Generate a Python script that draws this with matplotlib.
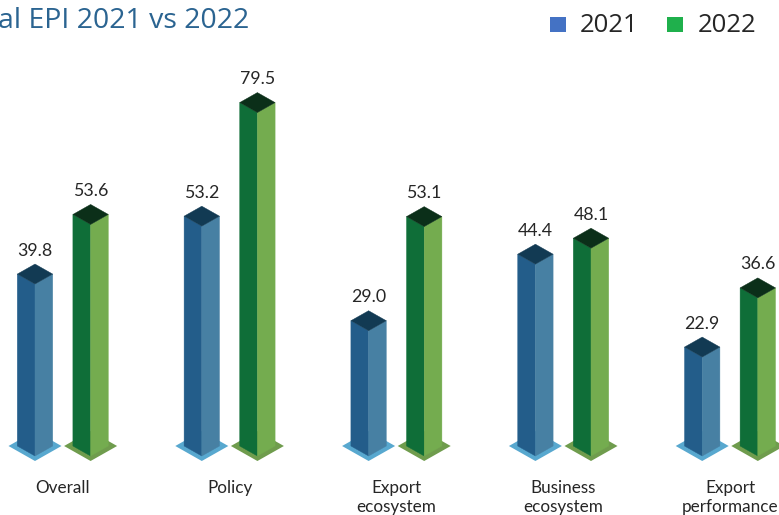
import matplotlib
matplotlib.use('Agg')
import matplotlib.pyplot as plt
from matplotlib.patches import Polygon, Rectangle

# EPI scores per pillar
categories = ['Overall', 'Policy', 'Export\necosystem', 'Business\necosystem', 'Export\nperformance']
epi_2021 = [39.8, 53.2, 29.0, 44.4, 22.9]
epi_2022 = [53.6, 79.5, 53.1, 48.1, 36.6]
years = ['2021', '2022']

# colours: (left face, right face, top, base, legend)
col_2021 = ('#235d8a', '#4780a3', '#123a53', '#58a8cf', '#4472c4')
col_2022 = ('#0f6e38', '#74ac4f', '#0b2f19', '#6f9c4d', '#1fb04c')

W, H = 779, 515
fig = plt.figure(figsize=(W / 100, H / 100), dpi=100)
ax = fig.add_axes([0, 0, 1, 1])
ax.axis('off')

# pixels per category step / per score unit
px_x = 166.8
px_y = 4.32
x0_px, y0_px = 62.8, 456
ax.set_xlim(-x0_px / px_x, (W - x0_px) / px_x)
ax.set_ylim(-(H - y0_px) / px_y, y0_px / px_y)

off = 27.8 / px_x      # bar offset from group centre
hw = 17.7 / px_x       # half width of a bar
dd = 10 / px_y         # half depth of the top diamond
bw = 26.5 / px_x       # half width of the base plate
bd = 15 / px_y         # half depth of the base plate


def bar3d(x, v, cols):
    left, right, top, base = cols[:4]
    # base plate
    ax.add_patch(Polygon([(x - bw, dd), (x, dd + bd), (x + bw, dd), (x, dd - bd)],
                         closed=True, fc=base, ec='none', zorder=1))
    # faces
    ax.add_patch(Polygon([(x - hw, dd), (x, 0), (x, v), (x - hw, v + dd)],
                         closed=True, fc=left, ec=left, lw=0.3, zorder=2))
    ax.add_patch(Polygon([(x, 0), (x + hw, dd), (x + hw, v + dd), (x, v)],
                         closed=True, fc=right, ec=right, lw=0.3, zorder=2))
    # top
    ax.add_patch(Polygon([(x - hw, v + dd), (x, v), (x + hw, v + dd), (x, v + 2 * dd)],
                         closed=True, fc=top, ec=top, lw=0.3, zorder=3))
    ax.annotate('%.1f' % v, (x, v + 2 * dd), xytext=(0, 4), textcoords='offset points',
                ha='center', va='bottom', fontsize=12.8, color='#262626', family='Lato')


for i, cat in enumerate(categories):
    bar3d(i - off, epi_2021[i], col_2021)
    bar3d(i + off, epi_2022[i], col_2022)
    ax.text(i, (y0_px - 480) / px_y, cat, ha='center', va='top', fontsize=12.3,
            color='#262626', family='Lato', linespacing=1.25)

# title, cut at the left edge
fig.text(-0.002, 1 - 7 / H, 'al EPI 2021 vs 2022', ha='left', va='top',
         fontsize=20.5, color='#2b6491', family='Open Sans')

# legend
for (x_sq, x_txt), yr, cols in zip([(550, 580), (667, 698)], years, [col_2021, col_2022]):
    fig.patches.append(Rectangle((x_sq / W, 1 - 32 / H), 16 / W, 15 / H,
                                 transform=fig.transFigure, fc=cols[4], ec='none'))
    fig.text(x_txt / W, 1 - 25 / H, yr, ha='left', va='center', fontsize=18.5,
             color='#262626', family='Open Sans')

fig.savefig('out.png', dpi=100)
